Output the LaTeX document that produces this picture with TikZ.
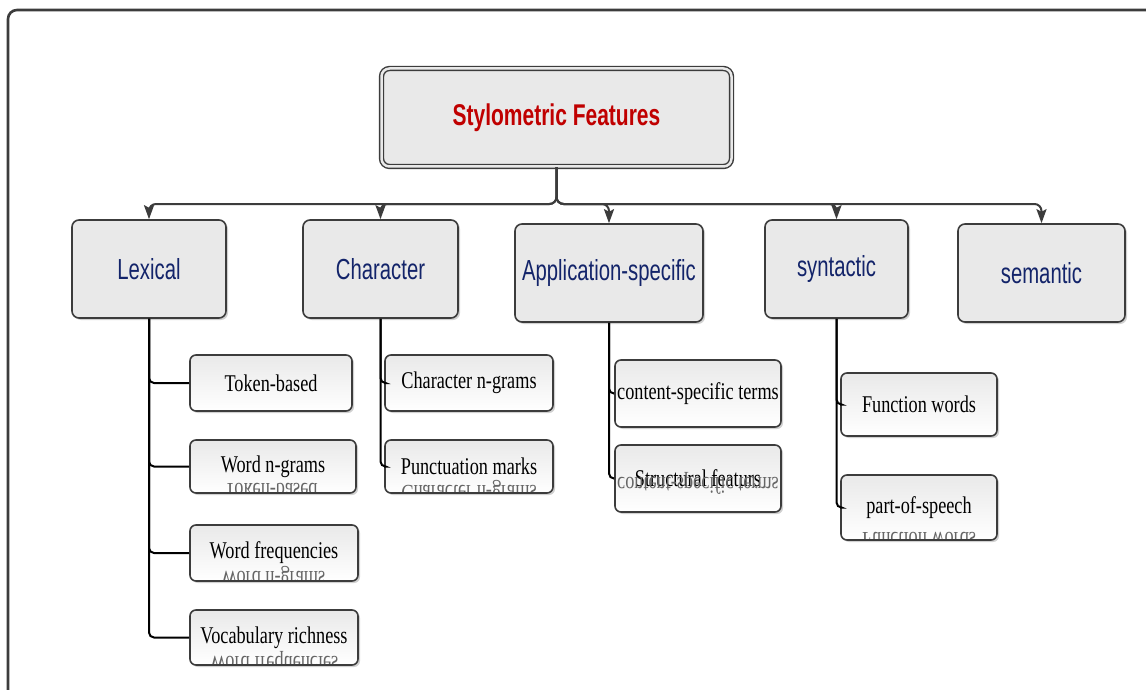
\documentclass[tikz,border=0pt]{standalone}
\usepackage{fontspec}
\usetikzlibrary{arrows.meta,shadows}
\newfontfamily\catfont[FakeStretch=0.70]{Liberation Sans}
\newfontfamily\leaffont[FakeStretch=0.76]{Liberation Serif}
\definecolor{edge}{HTML}{3C3C3C}
\definecolor{boxfill}{HTML}{E9E9E9}
\definecolor{navy}{HTML}{13246A}
\definecolor{titlered}{HTML}{C00000}
\tikzset{
  softshadow/.style={drop shadow={shadow xshift=2pt,shadow yshift=-2pt,fill=black,opacity=0.18}},
  rootbox/.style={draw=edge,double=boxfill,double distance=2.5pt,line width=1.4pt,
    fill=boxfill,rounded corners=8pt,inner sep=0pt,softshadow,
    font=\catfont\bfseries\fontsize{30}{34}\selectfont,text=titlered},
  catbox/.style={draw=edge,line width=1.6pt,fill=boxfill,rounded corners=7pt,inner sep=0pt,
    softshadow,font=\catfont\fontsize{29}{33}\selectfont,text=navy},
  leafbox/.style={draw=edge,line width=1.6pt,top color=boxfill,bottom color=white,
    rounded corners=6pt,inner sep=0pt,softshadow,
    font=\leaffont\fontsize{24}{28}\selectfont,text=black},
  ghost/.style={yscale=-1,anchor=base,inner sep=0pt,text=black!60,
    font=\leaffont\fontsize{24}{28}\selectfont},
  bus/.style={draw=edge,line width=2pt,rounded corners=7pt,
    -{Stealth[length=14pt,width=10pt,inset=2.5pt]}},
  branch/.style={draw=black,line width=2pt,rounded corners=5pt},
}
% mirrored copy of a label, kept inside the box it falls on
\newcommand\mirrortext[4]{%
  \begin{scope}
    \clip[rounded corners=5pt] ([shift={(2pt,2pt)}]#1.south west) rectangle ([shift={(-2pt,-2pt)}]#1.north east);
    \node[ghost] at (#2,#3) {#4};
  \end{scope}}
\begin{document}
\begin{tikzpicture}[x=1pt,y=-1pt]
\useasboundingbox (0,0) rectangle (1146,690);
\fill[white] (0,0) rectangle (1146,690);
\begin{scope}
  \clip (0,0) rectangle (1146,690);
  \draw[edge,line width=2.6pt,rounded corners=9pt] (8,10) rectangle (1170,720);
\end{scope}

% root
\node[rootbox,minimum width=350pt,minimum height=98pt] (root) at (556.5,117.5) {Stylometric Features};

% categories
\node[catbox,minimum width=154pt,minimum height=98pt] (lex) at (149,269) {Lexical};
\node[catbox,minimum width=155pt,minimum height=98pt] (chr) at (380.5,269) {Character};
\node[catbox,minimum width=188pt,minimum height=98pt] (app) at (609,273) {Application-specific};
\node[catbox,minimum width=143pt,minimum height=98pt] (syn) at (836.5,269) {syntactic};
\node[catbox,minimum width=167pt,minimum height=98pt] (sem) at (1041.5,273) {semantic};

\coordinate (rail) at (556.5,204);
\foreach \c in {lex,chr,app,syn,sem}
  \draw[bus] (root.south) |- (\c.north |- rail) -- (\c.north);

% lexical features
\node[leafbox,minimum width=162pt,minimum height=56pt] (tok) at (271,383) {Token-based};
\node[leafbox,minimum width=166pt,minimum height=53pt] (wng) at (273,466.5) {Word n-grams};
\node[leafbox,minimum width=168pt,minimum height=56pt] (wfr) at (274,553) {Word frequencies};
\node[leafbox,minimum width=168pt,minimum height=55pt] (voc) at (274,637.5) {Vocabulary richness};

% character features
\node[leafbox,minimum width=168pt,minimum height=56pt] (chn) at (469,383) {Character n-grams};
\node[leafbox,minimum width=168pt,minimum height=53pt] (pun) at (469,466.5) {Punctuation marks};

% application-specific features
\node[leafbox,minimum width=166pt,minimum height=67pt] (cst) at (698,393.5) {content-specific terms};
\node[leafbox,minimum width=166pt,minimum height=67pt] (stf) at (698,478.5) {Structural featurs};

% syntactic features
\node[leafbox,minimum width=156pt,minimum height=63pt] (fnw) at (919,404.5) {Function words};
\node[leafbox,minimum width=156pt,minimum height=65pt] (pos) at (919,507.5) {part-of-speech};

% reflections of the labels above
\mirrortext{wng}{271}{483}{Token-based}
\mirrortext{wfr}{273}{571}{Word n-grams}
\mirrortext{voc}{274}{656}{Word frequencies}
\mirrortext{pun}{469}{485}{Character n-grams}
\mirrortext{stf}{698}{477}{content-specific terms}
\mirrortext{pos}{919}{532}{Function words}

\foreach \p/\c in {lex/tok,lex/wng,lex/wfr,lex/voc,chr/chn,chr/pun,app/cst,app/stf,syn/fnw,syn/pos}
  \draw[branch] (\p.south) |- (\c.west);
\end{tikzpicture}
\end{document}
